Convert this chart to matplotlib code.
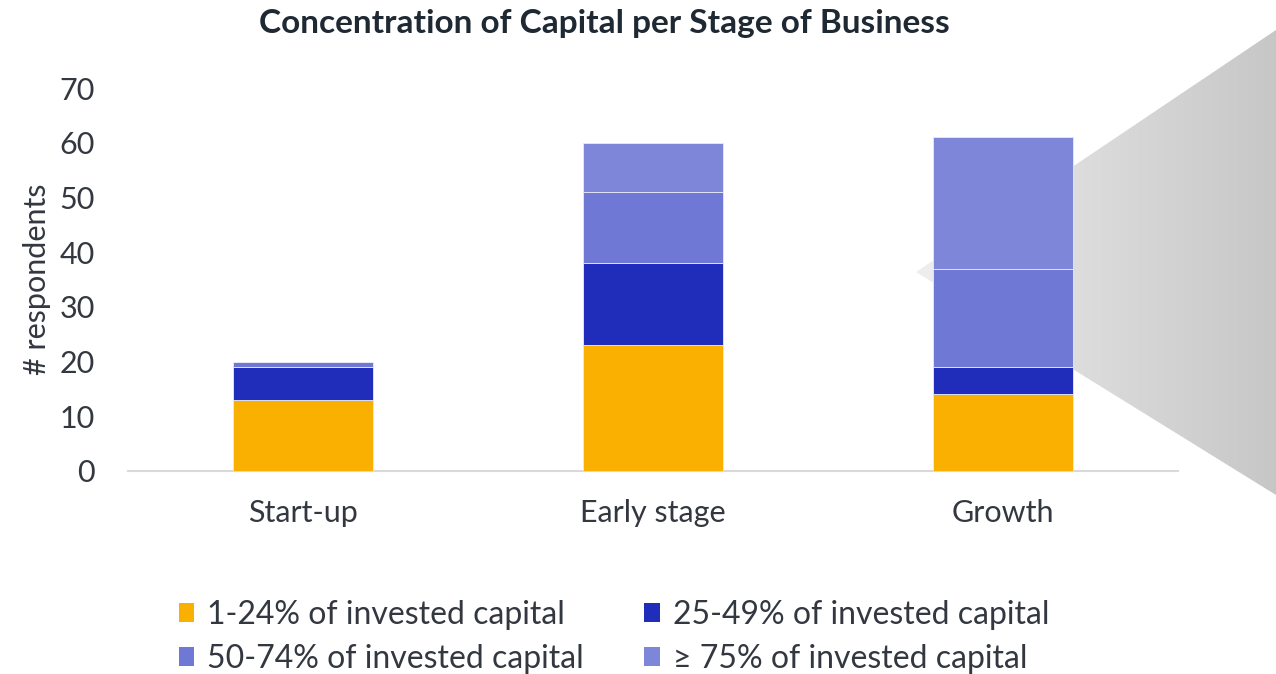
import matplotlib
matplotlib.use("Agg")
import matplotlib.pyplot as plt
import numpy as np
from matplotlib.patches import Polygon, Patch

categories = ["Start-up", "Early stage", "Growth"]
series_names = ["1-24% of invested capital", "25-49% of invested capital",
                "50-74% of invested capital", "\u2265 75% of invested capital"]
s1 = [13, 23, 14]
s2 = [6, 15, 5]
s3 = [1, 13, 18]
s4 = [0, 9, 24]
colors = ["#FAB000", "#1F2DBA", "#6F78D4", "#7E86D9"]
yticks = [0, 10, 20, 30, 40, 50, 60, 70]

plt.rcParams['font.family'] = ['Lato', 'DejaVu Sans']

W, H = 1276, 674
fig = plt.figure(figsize=(W / 100, H / 100), dpi=100)

# background decorative gradient shape
bg = fig.add_axes([0, 0, 1, 1], zorder=0)
bg.set_xlim(0, W)
bg.set_ylim(H, 0)
bg.axis('off')
poly = Polygon([(916, 272), (1276, 30), (1276, 495)], closed=True,
               facecolor='none', edgecolor='none')
bg.add_patch(poly)
grad = np.linspace(0, 1, 256).reshape(1, -1)
c0 = np.array([0.935, 0.935, 0.935])
c1 = np.array([0.78, 0.78, 0.78])
img = c0[None, None, :] * (1 - grad[..., None]) + c1[None, None, :] * grad[..., None]
im = bg.imshow(img, extent=(916, 1276, 495, 30), aspect='auto', zorder=0)
im.set_clip_path(poly)

ax = fig.add_axes([128 / W, 1 - 471 / H, (1178 - 128) / W, (471 - 88) / H], zorder=1)
ax.patch.set_alpha(0)
x = np.arange(len(categories))
bottom = np.zeros(len(categories))
handles = []
for vals, col, name in zip([s1, s2, s3, s4], colors, series_names):
    ax.bar(x, vals, width=0.4, bottom=bottom, color=col, edgecolor='#E8EAF8',
           linewidth=0.6, zorder=3)
    bottom += np.array(vals)
    handles.append(Patch(facecolor=col, edgecolor='none', label=name))

ax.set_xlim(-0.5, 2.5)
ax.set_ylim(0, 70)
ax.set_yticks(yticks)
ax.set_xticks(x)
ax.set_xticklabels(categories)
for s in ['top', 'right', 'left']:
    ax.spines[s].set_visible(False)
ax.spines['bottom'].set_color('#D9D9D9')
ax.spines['bottom'].set_linewidth(1.5)
ax.tick_params(axis='both', length=0, labelsize=22, colors='#333840')
ax.tick_params(axis='y', pad=24)
ax.tick_params(axis='x', pad=20)
ax.set_ylabel("# respondents", fontsize=22, color='#333840', labelpad=6)

fig.text(604 / W, 1 - 23 / H, "Concentration of Capital per Stage of Business",
         ha='center', va='center', fontsize=24, fontweight='bold', color='#1F2933')

order = [0, 2, 1, 3]
leg = fig.legend(handles=[handles[i] for i in order], loc='center',
                 bbox_to_anchor=(614 / W, 1 - 637 / H),
                 ncol=2, frameon=False, fontsize=23, handlelength=0.48, handleheight=0.55,
                 handletextpad=0.4, columnspacing=1.9, labelspacing=0.43,
                 borderpad=0, borderaxespad=0)
for t in leg.get_texts():
    t.set_color('#333840')

fig.savefig("out.png", dpi=100)
